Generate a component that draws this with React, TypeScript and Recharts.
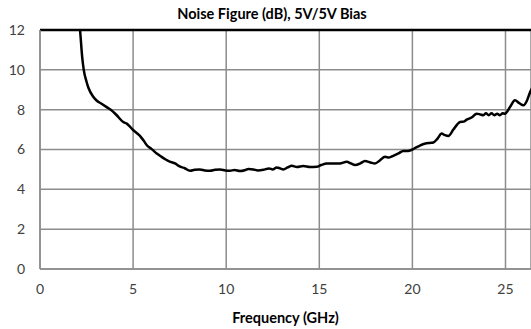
// Noise figure vs. frequency line chart
import { CartesianGrid, Line, LineChart, ReferenceLine, XAxis, YAxis } from "recharts";

// frequency in GHz
const freq = [
  2.0, 2.15, 2.27, 2.35, 2.5, 2.6, 2.86, 3.04, 3.3, 3.58, 3.8, 4.12, 4.47, 4.66, 5.0, 5.2, 5.4, 5.6, 5.75,
  6.0, 6.27, 6.5, 6.75, 7.0, 7.25, 7.5, 7.75, 8.06, 8.3, 8.59, 8.85, 9.13, 9.4, 9.67, 9.95, 10.2, 10.45,
  10.74, 11.0, 11.2, 11.46, 11.7, 12.0, 12.3, 12.5, 12.71, 12.9, 13.07, 13.3, 13.52, 13.8, 14.14, 14.5,
  14.86, 15.1, 15.4, 15.75, 16.1, 16.47, 16.7, 16.92, 17.2, 17.45, 17.75, 17.99, 18.25, 18.53, 18.75,
  18.97, 19.25, 19.51, 19.7, 19.87, 20.1, 20.4, 20.7, 20.94, 21.12, 21.35, 21.57, 21.75, 21.93, 22.2,
  22.4, 22.56, 22.75, 22.92, 23.2, 23.45, 23.65, 23.81, 23.95, 24.1, 24.25, 24.4, 24.55, 24.7, 24.85,
  24.97, 25.25, 25.51, 25.75, 25.96, 26.15, 26.32, 26.5,
];

// noise figure in dB
const nf = [
  13.2, 12.0, 10.6, 10.0, 9.4, 9.1, 8.65, 8.46, 8.3, 8.13, 8.0, 7.72, 7.38, 7.3, 6.98, 6.82, 6.65, 6.4, 6.2,
  6.02, 5.8, 5.65, 5.5, 5.38, 5.3, 5.15, 5.07, 4.93, 4.98, 5.0, 4.95, 4.93, 4.98, 5.0, 4.95, 4.93, 4.97,
  4.92, 4.96, 5.02, 5.0, 4.95, 4.98, 5.05, 5.0, 5.1, 5.05, 5.0, 5.1, 5.18, 5.12, 5.17, 5.12,
  5.13, 5.22, 5.3, 5.3, 5.3, 5.38, 5.3, 5.22, 5.3, 5.42, 5.35, 5.3, 5.45, 5.63, 5.6,
  5.68, 5.8, 5.93, 5.92, 5.95, 6.05, 6.2, 6.3, 6.33, 6.35, 6.55, 6.8, 6.72, 6.68, 7.0,
  7.25, 7.38, 7.4, 7.5, 7.62, 7.8, 7.76, 7.72, 7.82, 7.72, 7.82, 7.72, 7.8, 7.72, 7.82,
  7.8, 8.15, 8.47, 8.32, 8.22, 8.45, 8.88, 9.2,
];

const xTicks = [0, 5, 10, 15, 20, 25];
const yTicks = [0, 2, 4, 6, 8, 10, 12];

const data = freq.map((f, i) => ({ f, nf: nf[i] }));

const FONT = "Lato, 'Open Sans', sans-serif";
const GRID = "#8c8c8c";

export default function App() {
  return (
    <div style={{ position: "absolute", left: 0, top: 0, width: 531, height: 329, fontFamily: FONT }}>
      <div
        style={{
          position: "absolute",
          left: 0,
          width: 544,
          top: 5,
          textAlign: "center",
          fontWeight: "bold",
          fontSize: 14.5,
          color: "#000",
        }}
      >
        Noise Figure (dB), 5V/5V Bias
      </div>
      <LineChart width={531} height={329} data={data} margin={{ top: 30, right: 0, bottom: 0, left: 0 }}>
        <CartesianGrid stroke={GRID} strokeWidth={1.5} />
        <XAxis
          dataKey="f"
          type="number"
          domain={[0, 26.37]}
          ticks={xTicks}
          allowDataOverflow
          height={60}
          tickLine={false}
          tickSize={0}
          tickMargin={15}
          stroke={GRID}
          strokeWidth={1.5}
          tick={{ fill: "#404040", fontSize: 14, fontFamily: FONT }}
          label={{
            value: "Frequency (GHz)",
            position: "insideBottom",
            offset: 6,
            fill: "#000",
            fontWeight: "bold",
            fontSize: 14.5,
            fontFamily: FONT,
          }}
        />
        <YAxis
          type="number"
          domain={[0, 12]}
          ticks={yTicks}
          allowDataOverflow
          width={40}
          tickLine={false}
          tickSize={0}
          tickMargin={15}
          stroke={GRID}
          strokeWidth={1.5}
          tick={{ fill: "#404040", fontSize: 14, fontFamily: FONT }}
        />
        <ReferenceLine y={12} stroke="#000" strokeWidth={2.5} />
        <Line
          dataKey="nf"
          type="monotone"
          stroke="#000"
          strokeWidth={2.5}
          dot={false}
          isAnimationActive={false}
        />
      </LineChart>
    </div>
  );
}
